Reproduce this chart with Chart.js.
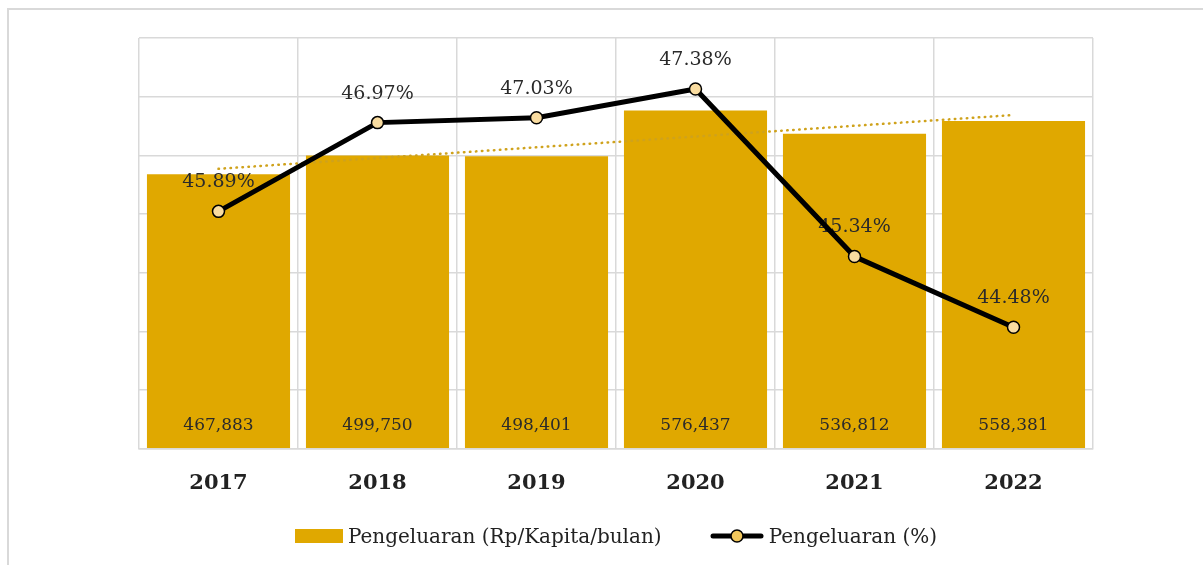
<!DOCTYPE html>
<html>
<head>
<meta charset="utf-8">
<title>Pengeluaran per Kapita</title>
<script src="https://cdn.jsdelivr.net/npm/chart.js@4.4.1/dist/chart.umd.min.js"></script>
<style>
  html, body { margin: 0; padding: 0; background: #fff; }
  #frame {
    position: absolute; left: 7px; top: 8px; width: 1196px; height: 557px;
    border-top: 2px solid #d9d9d9; border-left: 2px solid #d9d9d9; box-sizing: border-box;
  }
  #wrap { position: absolute; left: 0; top: 0; width: 1203px; height: 565px; }
  #legend {
    position: absolute; left: 139px; width: 954px; top: 522px; height: 28px;
    display: flex; justify-content: center; align-items: center;
    font-family: "DejaVu Serif", serif; font-size: 20px; color: #222;
  }
  .item { display: flex; align-items: center; margin: 0 24px; }
  .item canvas { margin-right: 5px; }
</style>
</head>
<body>
<div id="frame"></div>
<div id="wrap"><canvas id="spendingChart"></canvas></div>
<div id="legend"></div>
<script>
'use strict';

let years = ['2017', '2018', '2019', '2020', '2021', '2022'];
let spending = [467883, 499750, 498401, 576437, 536812, 558381];
let spendingPct = [45.89, 46.97, 47.03, 47.38, 45.34, 44.48];

let rpMin = 0;
let rpMax = 700000;
let rpStep = 100000;
let pctMin = 43;
let pctMax = 48;

let barColor = '#E0A800';
let pointFill = '#F9DCA0';
let gridColor = '#d9d9d9';
let serif = '"DejaVu Serif", serif';

// least squares line through the bar values, like a spreadsheet trendline
function linearTrend(values) {
  let n = values.length;
  let meanX = (n - 1) / 2;
  let meanY = values.reduce(function (a, b) { return a + b; }, 0) / n;
  let sxy = 0;
  let sxx = 0;
  values.forEach(function (v, i) {
    sxy += (i - meanX) * (v - meanY);
    sxx += (i - meanX) * (i - meanX);
  });
  let slope = sxy / sxx;
  return values.map(function (v, i) {
    return meanY + slope * (i - meanX);
  });
}

let valueLabels = {
  id: 'valueLabels',
  afterDatasetDraw: function (chart, args) {
    // draw after the trendline so the black line still lies on top
    if (args.index !== 2) {
      return;
    }
    let ctx = chart.ctx;
    ctx.save();
    ctx.textAlign = 'center';
    ctx.textBaseline = 'middle';
    ctx.fillStyle = '#2a2a2a';
    ctx.font = '17px ' + serif;
    chart.getDatasetMeta(0).data.forEach(function (bar, i) {
      ctx.fillText(spending[i].toLocaleString('en-US'), bar.x, bar.base - 22);
    });
    ctx.font = '19px ' + serif;
    chart.getDatasetMeta(1).data.forEach(function (pt, i) {
      ctx.fillText(spendingPct[i].toFixed(2) + '%', pt.x, pt.y - 29);
    });
    ctx.restore();
  }
};

let ctx = document.getElementById('spendingChart').getContext('2d');

let chart = new Chart(ctx, {
  type: 'bar',
  data: {
    labels: years,
    datasets: [{
      label: 'Pengeluaran (Rp/Kapita/bulan)',
      data: spending,
      backgroundColor: barColor,
      yAxisID: 'y',
      categoryPercentage: 1,
      barPercentage: 0.9,
      order: 3
    }, {
      type: 'line',
      label: 'Pengeluaran (%)',
      data: spendingPct,
      yAxisID: 'y1',
      borderColor: '#000',
      borderWidth: 5,
      pointRadius: 6,
      pointBorderWidth: 1.5,
      pointBorderColor: '#000',
      pointBackgroundColor: pointFill,
      tension: 0,
      order: 1
    }, {
      type: 'line',
      label: 'Trend',
      data: linearTrend(spending),
      yAxisID: 'y',
      borderColor: '#CFA21C',
      borderWidth: 2.5,
      borderDash: [0.5, 5.5],
      borderCapStyle: 'round',
      pointRadius: 0,
      order: 2
    }]
  },
  options: {
    responsive: true,
    maintainAspectRatio: false,
    animation: false,
    events: [],
    layout: {
      padding: { left: 139, right: 110, top: 38, bottom: 47 }
    },
    plugins: {
      legend: { display: false },
      tooltip: { enabled: false }
    },
    scales: {
      x: {
        offset: true,
        grid: { offset: true, color: gridColor, lineWidth: 1.5, drawTicks: false },
        border: { display: true, color: gridColor, width: 1.5 },
        ticks: {
          padding: 22,
          color: '#222',
          font: { family: serif, size: 21, weight: 'bold' }
        }
      },
      y: {
        min: rpMin,
        max: rpMax,
        ticks: { display: false, stepSize: rpStep },
        grid: { color: gridColor, lineWidth: 1.5, drawTicks: false },
        border: { display: false }
      },
      y1: {
        display: false,
        min: pctMin,
        max: pctMax
      }
    }
  },
  plugins: [valueLabels]
});

function barSymbol() {
  let c = document.createElement('canvas');
  c.width = 48;
  c.height = 14;
  let g = c.getContext('2d');
  g.fillStyle = barColor;
  g.fillRect(0, 0, 48, 14);
  return c;
}

function lineSymbol() {
  let c = document.createElement('canvas');
  c.width = 54;
  c.height = 16;
  let g = c.getContext('2d');
  g.strokeStyle = '#000';
  g.lineWidth = 5;
  g.lineCap = 'round';
  g.beginPath();
  g.moveTo(3, 8);
  g.lineTo(51, 8);
  g.stroke();
  g.beginPath();
  g.arc(27, 8, 6, 0, Math.PI * 2);
  g.fillStyle = '#F2C75C';
  g.fill();
  g.lineWidth = 1.5;
  g.stroke();
  return c;
}

function buildLegend() {
  let legend = document.getElementById('legend');
  let symbols = [barSymbol(), lineSymbol()];
  chart.data.datasets.slice(0, 2).forEach(function (ds, i) {
    let item = document.createElement('span');
    item.className = 'item';
    item.appendChild(symbols[i]);
    item.appendChild(document.createTextNode(ds.label));
    legend.appendChild(item);
  });
}

buildLegend();
</script>
</body>
</html>
